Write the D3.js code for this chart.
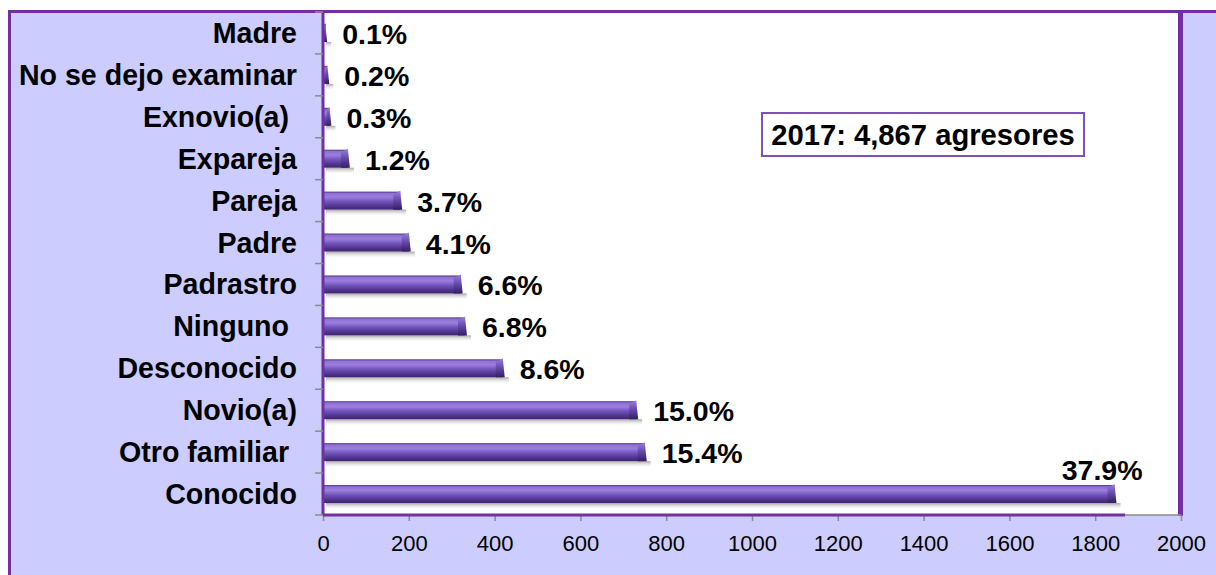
<!DOCTYPE html>
<html>
<head>
<meta charset="utf-8">
<script src="https://cdn.jsdelivr.net/npm/d3@7"></script>
<style>
  html, body { margin: 0; padding: 0; background: #fff; }
  svg { display: block; }
  text { font-family: Arial, "Liberation Sans", sans-serif; }
</style>
</head>
<body>
<svg id="chart" width="1216" height="575"></svg>
<script>
const categories = ["Madre", "No se dejo examinar", "Exnovio(a) ", "Expareja", "Pareja", "Padre",
  "Padrastro", "Ninguno ", "Desconocido", "Novio(a)", "Otro familiar ", "Conocido"];
const values = [5, 10, 15, 58, 180, 200, 321, 331, 419, 730, 750, 1845];
const percentLabels = ["0.1%", "0.2%", "0.3%", "1.2%", "3.7%", "4.1%", "6.6%", "6.8%", "8.6%", "15.0%", "15.4%", "37.9%"];
const xTicks = [0, 200, 400, 600, 800, 1000, 1200, 1400, 1600, 1800, 2000];
const annotation = "2017: 4,867 agresores";

const data = categories.map((c, i) => ({ cat: c, value: values[i], label: percentLabels[i] }));

const svg = d3.select("#chart");
const W = 1216, H = 575;
const plot = { left: 323, right: 1181, top: 12, bottom: 515 };

const x = d3.scaleLinear().domain([0, 2000]).range([plot.left, plot.right]);
const y = d3.scaleBand().domain(categories).range([plot.top, plot.bottom]).padding(0);

// defs: bar gradient
const defs = svg.append("defs");
const g1 = defs.append("linearGradient").attr("id", "barGrad").attr("x1", 0).attr("y1", 0).attr("x2", 0).attr("y2", 1);
[[0, "#4e3288"], [0.1, "#8e70d2"], [0.3, "#9b7fde"], [0.55, "#7154ba"], [0.8, "#52358e"], [1, "#3e2470"]]
  .forEach(([o, c]) => g1.append("stop").attr("offset", o).attr("stop-color", c));
const g2 = defs.append("linearGradient").attr("id", "shadowGrad").attr("x1", 0).attr("y1", 0).attr("x2", 0).attr("y2", 1);
g2.append("stop").attr("offset", 0).attr("stop-color", "#8a8a8a").attr("stop-opacity", 0.75);
g2.append("stop").attr("offset", 1).attr("stop-color", "#ffffff").attr("stop-opacity", 0);
const g3 = defs.append("linearGradient").attr("id", "capGrad").attr("x1", 0).attr("y1", 0).attr("x2", 0).attr("y2", 1);
[[0, "#9c82e0"], [0.45, "#6a4db0"], [1, "#341d62"]]
  .forEach(([o, c]) => g3.append("stop").attr("offset", o).attr("stop-color", c));

// backgrounds
svg.append("rect").attr("x", 0).attr("y", 0).attr("width", W).attr("height", H).attr("fill", "#ffffff");
svg.append("rect").attr("x", 9).attr("y", 10).attr("width", W - 9).attr("height", H - 10).attr("fill", "#ccccff");
svg.append("rect").attr("x", plot.left).attr("y", plot.top).attr("width", 1179 - plot.left).attr("height", plot.bottom - plot.top).attr("fill", "#ffffff");

// outer borders
svg.append("rect").attr("x", 9).attr("y", 10).attr("width", W - 9).attr("height", 3).attr("fill", "#7030a0");
svg.append("rect").attr("x", 8).attr("y", 10).attr("width", 3).attr("height", H - 10).attr("fill", "#7030a0");
svg.append("rect").attr("x", 1178).attr("y", 10).attr("width", 5).attr("height", plot.bottom - 10 + 1).attr("fill", "#7030a0");

// bars
const bh = 18;
const bars = svg.append("g");
data.forEach(d => {
  const yc = y(d.cat) + y.bandwidth() / 2;
  const x0 = x(0) + 1, x1 = x(d.value);
  bars.append("rect").attr("x", x0 + 2).attr("y", yc + bh / 2).attr("width", Math.max(0, x1 - x0 + 4)).attr("height", 7).attr("fill", "url(#shadowGrad)");
  bars.append("rect").attr("x", x0).attr("y", yc - bh / 2).attr("width", Math.max(2, x1 - x0)).attr("height", bh).attr("fill", "url(#barGrad)");
  const cw = Math.min(7, Math.max(2, (x1 - x0) * 0.5));
  bars.append("path")
    .attr("d", `M${x1 - cw},${yc - bh / 2 + 3} L${x1},${yc - bh / 2 - 1} L${x1 + 2},${yc + bh / 2} L${x1 - cw},${yc + bh / 2} Z`)
    .attr("fill", "url(#capGrad)");
});

// y axis line and ticks
const yAxisG = svg.append("g");
yAxisG.append("rect").attr("x", plot.left - 1.5).attr("y", plot.top).attr("width", 3).attr("height", plot.bottom - plot.top).attr("fill", "#7030a0");
const boundaries = categories.map(c => y(c)).concat([plot.bottom]);
boundaries.forEach(b => {
  yAxisG.append("line").attr("x1", plot.left - 8).attr("x2", plot.left).attr("y1", b).attr("y2", b)
    .attr("stroke", "#8c8c8c").attr("stroke-width", 1.5);
});

// x axis (D3 axis)
const xAxis = d3.axisBottom(x).tickValues(xTicks).tickSize(6).tickPadding(14).tickFormat(d3.format("d"));
const xAxisG = svg.append("g").attr("transform", `translate(0,${plot.bottom})`).call(xAxis);
xAxisG.select(".domain").remove();
xAxisG.selectAll(".tick line").attr("stroke", "#8c8c8c").attr("stroke-width", 1.5);
xAxisG.selectAll(".tick text").attr("font-size", "22px").attr("fill", "#000").attr("font-family", "Arial, 'Liberation Sans', sans-serif");
svg.append("rect").attr("x", plot.left).attr("y", plot.bottom - 1.5).attr("width", 1125 - plot.left).attr("height", 3).attr("fill", "#7030a0");
svg.append("line").attr("x1", 1125).attr("x2", plot.right).attr("y1", plot.bottom).attr("y2", plot.bottom).attr("stroke", "#8c8c8c").attr("stroke-width", 1.5);

// category labels
svg.append("g").selectAll("text").data(data).join("text")
  .attr("x", 297)
  .attr("y", d => y(d.cat) + y.bandwidth() / 2)
  .attr("dy", "0.35em")
  .attr("text-anchor", "end")
  .attr("font-size", "28.6px")
  .attr("font-weight", "bold")
  .style("white-space", "pre")
  .attr("fill", "#000")
  .text(d => d.cat);

// value labels
const maxV = d3.max(values);
svg.append("g").selectAll("text").data(data).join("text")
  .attr("x", d => d.value === maxV ? x(d.value) + 28 : x(d.value) + 17)
  .attr("y", d => y(d.cat) + y.bandwidth() / 2 + (d.value === maxV ? -24 : 1))
  .attr("dy", "0.35em")
  .attr("text-anchor", d => d.value === maxV ? "end" : "start")
  .attr("font-size", "28.5px")
  .attr("font-weight", "bold")
  .attr("fill", "#000")
  .text(d => d.label);

// annotation box
const ann = svg.append("g");
ann.append("rect").attr("x", 762).attr("y", 113).attr("width", 322).attr("height", 43)
  .attr("fill", "#fff").attr("stroke", "#8050b8").attr("stroke-width", 2);
ann.append("text").attr("x", 923).attr("y", 135).attr("dy", "0.35em").attr("text-anchor", "middle")
  .attr("font-size", "29.2px").attr("font-weight", "bold").attr("fill", "#000").text(annotation);
</script>
</body>
</html>
